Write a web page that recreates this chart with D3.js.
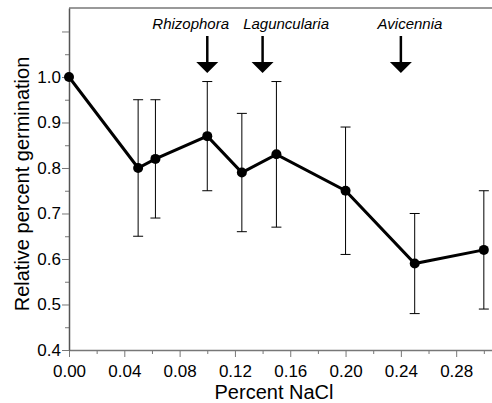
<!DOCTYPE html>
<html>
<head>
<meta charset="utf-8">
<script src="https://cdn.jsdelivr.net/npm/d3@7"></script>
<style>
  body { margin: 0; background: #fff; }
  svg { font-family: "Liberation Sans", Arial, sans-serif; }
</style>
</head>
<body>
<svg id="chart"></svg>
<script>
// Percent NaCl of each treatment
var nacl = [0, 0.05, 0.0625, 0.10, 0.125, 0.15, 0.20, 0.25, 0.30];
// Relative percent germination (mean) and error bar ends
var germ = [1.00, 0.80, 0.82, 0.87, 0.79, 0.83, 0.75, 0.59, 0.62];
var errHi = [null, 0.95, 0.95, 0.99, 0.92, 0.99, 0.89, 0.70, 0.75];
var errLo = [null, 0.65, 0.69, 0.75, 0.66, 0.67, 0.61, 0.48, 0.49];

// Species thresholds marked with arrows, and where their names sit
var species = ["Rhizophora", "Laguncularia", "Avicennia"];
var speciesNacl = [0.10, 0.14, 0.24];
var labelNacl = [0.088, 0.157, 0.2466];

var xTicks = [0, 0.04, 0.08, 0.12, 0.16, 0.20, 0.24, 0.28];
var yTicks = [0.4, 0.5, 0.6, 0.7, 0.8, 0.9, 1.0, 1.1];

var margin = {top: 8, right: 0, bottom: 53, left: 69},
    width = 492 - margin.left - margin.right,
    height = 403 - margin.top - margin.bottom;

var x = d3.scaleLinear()
    .domain([0, 0.3059])
    .range([0, width]);

var y = d3.scaleLinear()
    .domain([0.4, 1.1516])
    .range([height, 0]);

var svg = d3.select("#chart")
    .attr("width", width + margin.left + margin.right)
    .attr("height", height + margin.top + margin.bottom)
  .append("g")
    .attr("transform", "translate(" + margin.left + "," + margin.top + ")");

// top frame line
svg.append("line")
    .attr("x1", 0).attr("x2", width)
    .attr("y1", 0).attr("y2", 0)
    .attr("stroke", "#777").attr("stroke-width", 1.5);

// minor ticks
svg.append("g")
    .attr("transform", "translate(0," + height + ")")
    .call(d3.axisBottom(x).tickValues(d3.range(0.02, 0.31, 0.04)).tickSize(4).tickFormat(""))
    .call(function(g) { g.select(".domain").remove(); })
    .selectAll("line").attr("stroke", "#777");

svg.append("g")
    .call(d3.axisLeft(y).tickValues(d3.range(0.45, 1.1, 0.1)).tickSize(4).tickFormat(""))
    .call(function(g) { g.select(".domain").remove(); })
    .selectAll("line").attr("stroke", "#777");

// x axis
var xAxis = svg.append("g")
    .attr("transform", "translate(0," + height + ")")
    .call(d3.axisBottom(x).tickValues(xTicks).tickSize(7).tickSizeOuter(0).tickPadding(8)
        .tickFormat(d3.format(".2f")));
xAxis.select(".domain").attr("stroke", "#777").attr("stroke-width", 1.5);
xAxis.selectAll("line").attr("stroke", "#777");
xAxis.selectAll("text").attr("font-size", 17).attr("fill", "#000")
    .attr("font-family", "Liberation Sans, Arial, sans-serif");

// y axis
var yAxis = svg.append("g")
    .call(d3.axisLeft(y).tickValues(yTicks).tickSize(7).tickSizeOuter(0).tickPadding(1)
        .tickFormat(function(d) { return d > 1.05 ? "" : d3.format(".1f")(d); }));
yAxis.select(".domain").attr("stroke", "#555").attr("stroke-width", 1.5);
yAxis.selectAll("line").attr("stroke", "#777");
yAxis.selectAll("text").attr("font-size", 17).attr("fill", "#000")
    .attr("font-family", "Liberation Sans, Arial, sans-serif");

// axis labels
svg.append("text")
    .attr("x", 205)
    .attr("y", height + 49)
    .style("text-anchor", "middle")
    .attr("font-size", 20)
    .text("Percent NaCl");

svg.append("text")
    .attr("transform", "rotate(-90)")
    .attr("x", -176)
    .attr("y", -40)
    .style("text-anchor", "middle")
    .attr("font-size", 20)
    .text("Relative percent germination");

// error bars
var idx = d3.range(nacl.length).filter(function(i) { return errHi[i] != null; });
var eb = svg.selectAll(".err")
    .data(idx)
  .enter().append("g")
    .attr("class", "err")
    .attr("stroke", "#000")
    .attr("stroke-width", 1);
eb.append("line")
    .attr("x1", function(i) { return x(nacl[i]); })
    .attr("x2", function(i) { return x(nacl[i]); })
    .attr("y1", function(i) { return y(errHi[i]); })
    .attr("y2", function(i) { return y(errLo[i]); });
eb.append("line")
    .attr("x1", function(i) { return x(nacl[i]) - 5; })
    .attr("x2", function(i) { return x(nacl[i]) + 5; })
    .attr("y1", function(i) { return y(errHi[i]); })
    .attr("y2", function(i) { return y(errHi[i]); });
eb.append("line")
    .attr("x1", function(i) { return x(nacl[i]) - 5; })
    .attr("x2", function(i) { return x(nacl[i]) + 5; })
    .attr("y1", function(i) { return y(errLo[i]); })
    .attr("y2", function(i) { return y(errLo[i]); });

// line
var line = d3.line()
    .x(function(d, i) { return x(nacl[i]); })
    .y(function(d) { return y(d); });

svg.append("path")
    .datum(germ)
    .attr("fill", "none")
    .attr("stroke", "#000")
    .attr("stroke-width", 3)
    .attr("d", line);

svg.selectAll(".dot")
    .data(germ)
  .enter().append("circle")
    .attr("class", "dot")
    .attr("cx", function(d, i) { return x(nacl[i]); })
    .attr("cy", function(d) { return y(d); })
    .attr("r", 5)
    .attr("fill", "#000");

// species names and arrows
svg.selectAll(".sp-label")
    .data(species)
  .enter().append("text")
    .attr("class", "sp-label")
    .attr("x", function(d, i) { return x(labelNacl[i]); })
    .attr("y", 21)
    .style("text-anchor", "middle")
    .attr("font-size", 15)
    .attr("font-style", "italic")
    .text(function(d) { return d; });

var arr = svg.selectAll(".arrow")
    .data(speciesNacl)
  .enter().append("g")
    .attr("class", "arrow")
    .attr("transform", function(d) { return "translate(" + x(d) + ",0)"; });
arr.append("line")
    .attr("x1", 0).attr("x2", 0)
    .attr("y1", 28).attr("y2", 56)
    .attr("stroke", "#000").attr("stroke-width", 2.5);
arr.append("path")
    .attr("d", "M-11,54 L11,54 L0,65 Z")
    .attr("fill", "#000");
</script>
</body>
</html>
